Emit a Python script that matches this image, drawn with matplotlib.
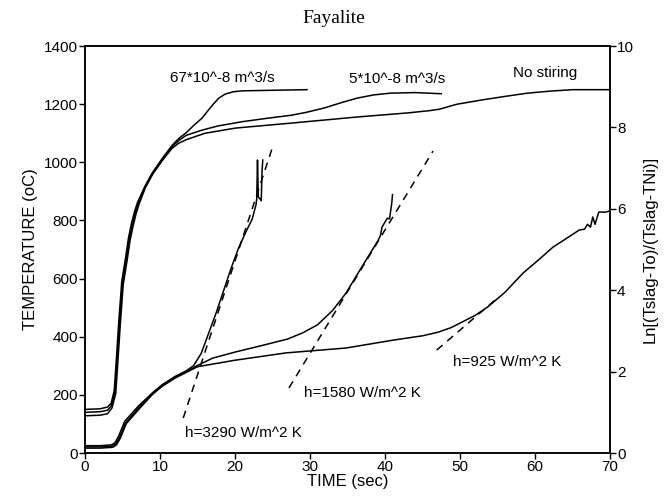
import numpy as np
import matplotlib.pyplot as plt

plt.rcParams['font.family'] = ['Liberation Sans', 'DejaVu Sans']

# ---- slag temperature (left axis, oC) ----
t_fast = [0, 2, 3, 3.5, 3.9, 4.2, 4.5, 4.9, 5.4, 5.8, 6.2, 6.6, 7, 8, 9, 10.3, 11.6,
          12.5, 13.5, 14.5, 15.6, 16.4, 17.1, 17.8, 18.7, 19.8, 21, 25, 29.6]
T_fast = [150, 152, 158, 172, 215, 330, 450, 590, 670, 740, 790, 830, 862, 918, 965, 1013, 1058,
          1082, 1102, 1127, 1152, 1178, 1200, 1220, 1235, 1243, 1246, 1248, 1250]

t_mid = [0, 2, 3, 3.5, 4.0, 4.3, 4.6, 5.0, 5.5, 5.9, 6.3, 6.7, 7.1, 8, 9, 10.3, 11.6,
         12.5, 13.5, 15.5, 17.7, 21, 24.4, 27.5, 29.5, 31.9, 34, 36.3, 38.5, 40.7, 44, 47.5]
T_mid = [140, 142, 147, 162, 210, 325, 445, 585, 665, 735, 785, 826, 858, 915, 962, 1010, 1054,
         1075, 1093, 1110, 1125, 1140, 1152, 1162, 1172, 1187, 1204, 1221, 1232, 1238, 1240, 1236]

t_none = [0, 2, 3, 3.6, 4.1, 4.4, 4.7, 5.1, 5.6, 6.0, 6.4, 6.8, 7.2, 8, 9, 10.3, 11.6,
          12.5, 13.5, 16, 20.1, 27.5, 36.3, 43, 46, 47.3, 48.5, 49.6, 53, 56.3, 59, 62, 65, 70]
T_none = [128, 130, 135, 155, 205, 320, 440, 580, 660, 730, 780, 822, 855, 910, 958, 1006, 1048,
          1066, 1078, 1100, 1118, 1135, 1156, 1170, 1178, 1183, 1192, 1200, 1215, 1228, 1238, 1245,
          1250, 1250]

# ---- Ln[(Tslag-To)/(Tslag-TNi)] (right axis) ----
t_ln_fast = [0, 2, 3.5, 4.0, 4.5, 5.3, 7.1, 9, 10.3, 12, 13.5, 14.5, 15.5, 16.5, 17.5,
             18.5, 19.5, 20.5, 21.5, 22.3, 22.8, 22.9, 23.0, 23.1, 23.5, 23.6, 23.7]
ln_fast = [0.18, 0.18, 0.2, 0.25, 0.42, 0.78, 1.15, 1.48, 1.68, 1.88, 2.02, 2.15, 2.45,
           2.95, 3.45, 4.0, 4.55, 5.05, 5.45, 5.75, 6.1, 6.25, 7.2, 6.3, 6.2, 6.9, 7.2]

t_ln_mid = [0, 2, 3.6, 4.1, 4.6, 5.4, 7.2, 9, 10.3, 12, 13.5, 15, 17, 20, 24, 27, 29,
            31, 33, 34.8, 36.9, 39.1, 39.4, 39.6, 40.3, 40.6, 40.9, 41.0]
ln_mid = [0.15, 0.15, 0.17, 0.22, 0.38, 0.74, 1.12, 1.46, 1.66, 1.86, 2.0, 2.15, 2.33,
          2.48, 2.66, 2.8, 2.95, 3.15, 3.5, 3.93, 4.57, 5.23, 5.35, 5.55, 5.77, 5.75, 6.14, 6.35]

t_ln_none = [0, 2, 3.7, 4.2, 4.7, 5.5, 7.3, 9, 10.3, 12, 13.5, 15, 20, 26.8, 34.8,
             41.3, 45, 47.1, 48.8, 50.3, 52, 53.7, 56, 58.4, 60.5, 62.4, 64, 65.9, 66.6, 67, 67.4,
             67.7, 68, 68.5, 69.4, 70]
ln_none = [0.12, 0.12, 0.14, 0.2, 0.36, 0.72, 1.1, 1.44, 1.64, 1.84, 1.98, 2.12, 2.28,
           2.46, 2.58, 2.78, 2.88, 2.97, 3.08, 3.22, 3.38, 3.59, 3.95, 4.42, 4.75, 5.06,
           5.25, 5.48, 5.5, 5.62, 5.55, 5.8, 5.62, 5.92, 5.92, 5.95]

# linear fits: (t_start, t_end, ln_start, ln_end)
fit_3290 = [13.1, 25.1, 0.86, 7.57]
fit_1580 = [27.2, 46.4, 1.60, 7.42]
fit_925 = [46.9, 55.0, 2.53, 3.81]

fig = plt.figure(figsize=(6.64, 5.03), dpi=100)
ax = fig.add_axes([0.128, 0.0994, 0.7907, 0.809])
ax2 = ax.twinx()

lw = 1.1
ax.plot(t_fast, T_fast, 'k-', lw=lw)
ax.plot(t_mid, T_mid, 'k-', lw=lw)
ax.plot(t_none, T_none, 'k-', lw=lw)

ax2.plot(t_ln_fast, ln_fast, 'k-', lw=lw)
ax2.plot(t_ln_mid, ln_mid, 'k-', lw=lw)
ax2.plot(t_ln_none, ln_none, 'k-', lw=lw)

for f in (fit_3290, fit_1580, fit_925):
    ax2.plot(f[:2], f[2:], color='k', lw=1.1, linestyle=(0, (5, 4)))

ax.set_xlim(0, 70)
ax.set_ylim(0, 1400)
ax2.set_ylim(0, 10)
ax.set_xticks(range(0, 71, 10))
ax.set_yticks(range(0, 1401, 200))
ax2.set_yticks(range(0, 11, 2))

for a in (ax, ax2):
    a.tick_params(direction='out', length=4, width=1, labelsize=11, pad=1)
    for s in a.spines.values():
        s.set_linewidth(1.1)

ax.set_xlabel('TIME (sec)', fontsize=12, labelpad=0)
ax.set_ylabel('TEMPERATURE (oC)', fontsize=12, labelpad=4)
ax2.set_ylabel('Ln[(Tslag-To)/(Tslag-TNi)]', fontsize=12, rotation=90, labelpad=6)

fig.text(0.502, 0.963, 'Fayalite', fontsize=14, family='Liberation Serif',
         ha='center', va='center')

# curve labels
ax.text(18.3, 1290, '67*10^-8 m^3/s', fontsize=11, ha='center', va='center')
ax.text(41.6, 1287, '5*10^-8 m^3/s', fontsize=11, ha='center', va='center')
ax.text(61.3, 1307, 'No stiring', fontsize=11, ha='center', va='center')
ax.text(13.3, 69, 'h=3290 W/m^2 K', fontsize=11, ha='left', va='center')
ax.text(29.2, 206, 'h=1580 W/m^2 K', fontsize=11, ha='left', va='center')
ax.text(49.1, 313, 'h=925 W/m^2 K', fontsize=11, ha='left', va='center')

fig.savefig('out.png', dpi=100)
